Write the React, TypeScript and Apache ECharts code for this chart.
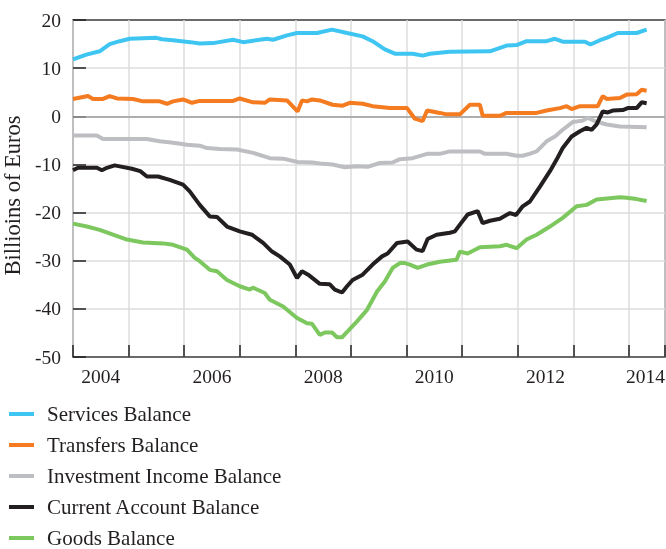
import { useEffect, useRef } from "react";
import * as echarts from "echarts";

// ---- data (x = fractional year, y = billions of euros) ----
const seriesNames = [
  "Services Balance",
  "Transfers Balance",
  "Investment Income Balance",
  "Current Account Balance",
  "Goods Balance",
];

const seriesColors = ["#3EC5F1", "#F47B20", "#BDBEC1", "#231F20", "#7DC75F"];

const servicesBalance = [
  [2004.0, 11.8], [2004.24, 12.8], [2004.48, 13.5], [2004.66, 15.0], [2004.84, 15.6],
  [2005.02, 16.1], [2005.5, 16.3], [2005.6, 16.0], [2005.8, 15.8], [2006.11, 15.4],
  [2006.28, 15.1], [2006.52, 15.2], [2006.88, 15.9], [2007.06, 15.4], [2007.24, 15.7],
  [2007.49, 16.1], [2007.6, 15.9], [2007.85, 16.8], [2008.03, 17.3], [2008.39, 17.3],
  [2008.66, 18.0], [2008.93, 17.3], [2009.21, 16.6], [2009.39, 15.6], [2009.61, 13.9],
  [2009.79, 13.0], [2010.11, 13.0], [2010.29, 12.6], [2010.42, 13.0], [2010.78, 13.4],
  [2011.5, 13.5], [2011.8, 14.7], [2011.98, 14.8], [2012.16, 15.6], [2012.52, 15.6],
  [2012.67, 16.1], [2012.81, 15.5], [2013.21, 15.5], [2013.31, 14.9], [2013.48, 15.8],
  [2013.62, 16.4], [2013.8, 17.3], [2014.14, 17.3], [2014.32, 18.0],
];

const transfersBalance = [
  [2004.0, 3.6], [2004.27, 4.2], [2004.36, 3.6], [2004.54, 3.6], [2004.66, 4.2],
  [2004.79, 3.7], [2005.08, 3.6], [2005.26, 3.1], [2005.56, 3.1], [2005.69, 2.6],
  [2005.8, 3.1], [2005.98, 3.5], [2006.14, 2.8], [2006.28, 3.2], [2006.88, 3.2],
  [2007.0, 3.7], [2007.24, 2.9], [2007.45, 2.8], [2007.54, 3.5], [2007.85, 3.3],
  [2008.04, 1.0], [2008.12, 3.3], [2008.21, 3.1], [2008.3, 3.5], [2008.44, 3.3],
  [2008.67, 2.4], [2008.85, 2.2], [2008.98, 2.8], [2009.21, 2.6], [2009.39, 2.1],
  [2009.7, 1.7], [2010.01, 1.7], [2010.15, -0.5], [2010.29, -1.0], [2010.37, 1.2],
  [2010.6, 0.7], [2010.72, 0.4], [2010.96, 0.4], [2011.14, 2.4], [2011.32, 2.4],
  [2011.37, 0.1], [2011.68, 0.1], [2011.8, 0.7], [2012.34, 0.7], [2012.52, 1.2],
  [2012.76, 1.7], [2012.88, 2.1], [2012.97, 1.5], [2013.12, 2.1], [2013.44, 2.1],
  [2013.53, 4.2], [2013.6, 3.6], [2013.84, 3.8], [2013.96, 4.5], [2014.14, 4.6],
  [2014.23, 5.5], [2014.32, 5.3],
];

const investmentIncomeBalance = [
  [2004.0, -4.0], [2004.43, -4.0], [2004.54, -4.7], [2005.33, -4.7], [2005.56, -5.2],
  [2005.8, -5.5], [2006.05, -5.9], [2006.28, -6.1], [2006.41, -6.6], [2006.64, -6.8],
  [2006.95, -6.9], [2007.24, -7.6], [2007.54, -8.7], [2007.78, -8.8], [2008.04, -9.5],
  [2008.31, -9.6], [2008.44, -9.8], [2008.67, -10.0], [2008.89, -10.6], [2009.11, -10.4],
  [2009.3, -10.5], [2009.52, -9.7], [2009.75, -9.6], [2009.88, -8.9], [2010.11, -8.7],
  [2010.37, -7.8], [2010.6, -7.8], [2010.78, -7.3], [2011.32, -7.3], [2011.41, -7.8],
  [2011.8, -7.8], [2011.98, -8.2], [2012.09, -8.2], [2012.21, -7.8], [2012.34, -7.3],
  [2012.52, -5.2], [2012.67, -4.2], [2012.81, -2.8], [2012.99, -1.2], [2013.17, -0.9],
  [2013.26, -0.3], [2013.39, -1.0], [2013.6, -1.7], [2013.84, -2.1], [2014.32, -2.3],
];

const currentAccountBalance = [
  [2004.0, -11.2], [2004.09, -10.7], [2004.43, -10.7], [2004.52, -11.2], [2004.61, -10.7],
  [2004.75, -10.2], [2004.84, -10.4], [2005.06, -10.9], [2005.21, -11.4], [2005.33, -12.5],
  [2005.53, -12.5], [2005.74, -13.2], [2005.98, -14.2], [2006.1, -15.6], [2006.28, -18.4],
  [2006.46, -20.8], [2006.59, -20.9], [2006.77, -22.9], [2007.0, -23.9], [2007.22, -24.6],
  [2007.42, -26.3], [2007.58, -28.1], [2007.72, -29.1], [2007.9, -30.8], [2008.03, -33.6],
  [2008.12, -32.2], [2008.23, -32.9], [2008.44, -34.8], [2008.62, -34.9], [2008.71, -36.0],
  [2008.84, -36.6], [2008.93, -35.3], [2009.03, -34.0], [2009.21, -32.9], [2009.39, -30.8],
  [2009.56, -29.1], [2009.66, -28.5], [2009.83, -26.3], [2010.02, -26.0], [2010.18, -27.7],
  [2010.29, -28.0], [2010.38, -25.5], [2010.54, -24.6], [2010.78, -24.2], [2010.87, -23.9],
  [2010.96, -22.5], [2011.1, -20.4], [2011.28, -19.7], [2011.37, -22.2], [2011.5, -21.7],
  [2011.68, -21.3], [2011.86, -20.1], [2011.97, -20.5], [2012.09, -18.7], [2012.22, -17.7],
  [2012.4, -14.6], [2012.58, -11.4], [2012.7, -9.0], [2012.81, -6.6], [2012.97, -4.2],
  [2013.12, -3.1], [2013.24, -2.4], [2013.33, -2.8], [2013.42, -1.7], [2013.53, 1.0],
  [2013.62, 0.8], [2013.71, 1.2], [2013.89, 1.3], [2013.98, 1.7], [2014.14, 1.7],
  [2014.23, 2.9], [2014.32, 2.7],
];

const goodsBalance = [
  [2004.0, -22.3], [2004.25, -22.9], [2004.48, -23.6], [2004.72, -24.6], [2004.97, -25.6],
  [2005.26, -26.2], [2005.62, -26.4], [2005.8, -26.7], [2006.05, -27.7], [2006.19, -29.4],
  [2006.28, -30.1], [2006.46, -31.9], [2006.59, -32.2], [2006.77, -34.0], [2007.0, -35.3],
  [2007.18, -36.0], [2007.24, -35.6], [2007.45, -36.7], [2007.54, -38.1], [2007.78, -39.5],
  [2008.03, -41.9], [2008.21, -43.0], [2008.3, -43.1], [2008.44, -45.4], [2008.53, -44.9],
  [2008.66, -44.9], [2008.75, -45.9], [2008.84, -45.9], [2008.94, -44.7], [2009.11, -42.6],
  [2009.29, -40.2], [2009.47, -36.4], [2009.61, -34.3], [2009.75, -31.5], [2009.88, -30.5],
  [2009.97, -30.5], [2010.06, -30.8], [2010.2, -31.5], [2010.37, -30.8], [2010.6, -30.2],
  [2010.9, -29.8], [2010.96, -28.1], [2011.1, -28.5], [2011.32, -27.2], [2011.68, -27.0],
  [2011.8, -26.7], [2011.98, -27.4], [2012.16, -25.6], [2012.34, -24.6], [2012.58, -22.9],
  [2012.81, -21.1], [2013.06, -18.7], [2013.24, -18.4], [2013.42, -17.3], [2013.84, -16.8],
  [2013.96, -16.9], [2014.14, -17.2], [2014.32, -17.6],
];

const seriesData = [
  servicesBalance,
  transfersBalance,
  investmentIncomeBalance,
  currentAccountBalance,
  goodsBalance,
];

// year label positions (mid-year; the last one is pulled in to fit the frame)
const yearLabelPositions = [2004.5, 2006.5, 2008.5, 2010.5, 2012.5, 2014.3];
const xMin = 2004;
const xMax = 2014.65;
const yMin = -50;
const yMax = 20;
const yAxisTitle = "Billioins of Euros";

const FONT = "'Liberation Serif', 'Times New Roman', serif";
const INK = "#231F20";
const GRID_GREY = "#DCDCDC";

export default function App() {
  const ref = useRef<HTMLDivElement>(null);

  useEffect(() => {
    if (!ref.current) return;
    const chart = echarts.init(ref.current, undefined, { renderer: "svg" });

    const series: any[] = seriesNames.map((name, i) => ({
      name,
      type: "line",
      data: seriesData[i],
      showSymbol: false,
      symbol: "none",
      xAxisIndex: 0,
      yAxisIndex: 0,
      lineStyle: { color: seriesColors[i], width: 4 },
      itemStyle: { color: seriesColors[i] },
      ...(i === 0
        ? {
            markLine: {
              silent: true,
              symbol: "none",
              z: 1,
              label: { show: false },
              lineStyle: { color: "#9C9C9C", width: 1.5, type: "solid" },
              data: [{ yAxis: 0 }],
            },
          }
        : {}),
    }));

    chart.setOption({
      animation: false,
      grid: {
        left: 73,
        right: 1,
        top: 20,
        bottom: 192,
        outerBoundsMode: "none",
        containLabel: false,
        show: true,
        borderColor: "#3A3A3A",
        borderWidth: 1.5,
      },
      xAxis: [
        {
          type: "value",
          position: "bottom",
          min: xMin,
          max: xMax,
          interval: 1,
          axisLine: { show: false, onZero: false },
          axisTick: {
            show: true,
            inside: true,
            length: 12,
            lineStyle: { color: INK, width: 1.5 },
          },
          splitLine: {
            show: true,
            lineStyle: { color: GRID_GREY, width: 1.5 },
          },
          axisLabel: { show: false },
        },
        {
          type: "value",
          position: "bottom",
          min: xMin,
          max: xMax,
          axisLine: { show: false, onZero: false },
          axisTick: { show: false },
          splitLine: { show: false },
          axisLabel: {
            customValues: yearLabelPositions,
            formatter: (v: number) => String(Math.floor(v)),
            margin: 9,
            fontFamily: FONT,
            fontSize: 19.5,
            color: INK,
          },
        },
      ],
      yAxis: {
        type: "value",
        min: yMin,
        max: yMax,
        interval: 10,
        name: yAxisTitle,
        nameLocation: "middle",
        nameRotate: 90,
        nameGap: 39,
        nameTextStyle: {
          fontFamily: FONT,
          fontSize: 22.5,
          color: INK,
          padding: [0, 14, 0, 0],
        },
        axisLine: { show: false, onZero: false },
        axisTick: {
          show: true,
          inside: true,
          length: 13,
          lineStyle: { color: INK, width: 1.5 },
        },
        splitLine: {
          show: true,
          showMinLine: false,
          showMaxLine: false,
          lineStyle: { color: GRID_GREY, width: 1.5 },
        },
        axisLabel: {
          margin: 12,
          fontFamily: FONT,
          fontSize: 19.5,
          color: INK,
        },
      },
      legend: {
        data: seriesNames,
        orient: "vertical",
        left: 9,
        top: 403,
        padding: 0,
        itemWidth: 25,
        itemHeight: 4,
        itemGap: 9,
        icon: "rect",
        selectedMode: false,
        textStyle: {
          fontFamily: FONT,
          fontSize: 21,
          color: INK,
          lineHeight: 22,
          padding: [0, 0, 0, 8],
        },
      },
      series,
    });

    return () => chart.dispose();
  }, []);

  return (
    <div style={{ position: "fixed", left: 0, top: 0 }}>
      <div ref={ref} style={{ width: 666, height: 549 }} />
    </div>
  );
}
